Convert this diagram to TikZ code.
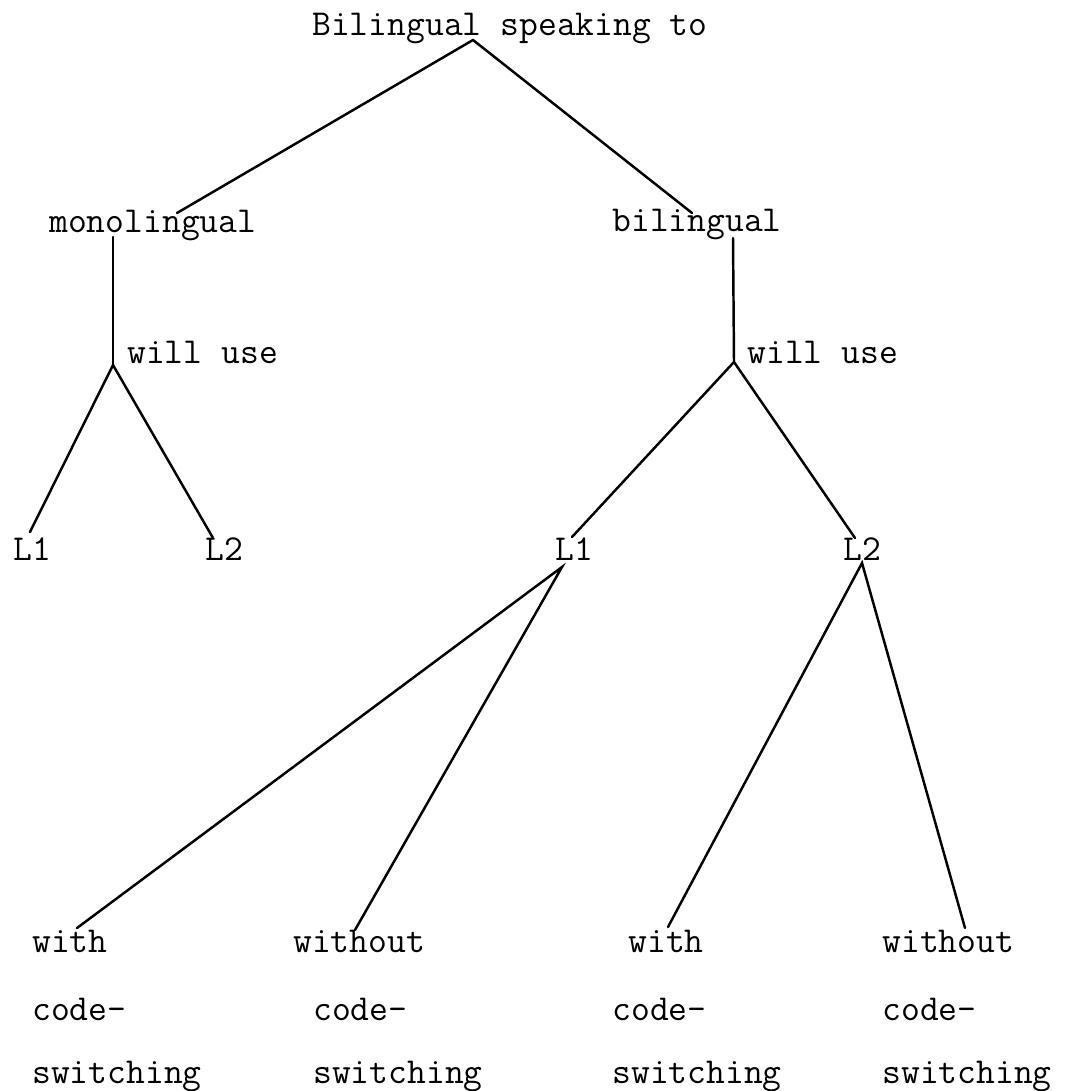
\documentclass[tikz,border=0pt]{standalone}
\usepackage{fontspec}

\begin{document}
\begin{tikzpicture}[x=0.02cm, y=-0.02cm,
word/.style={anchor=base west, inner sep=0pt, font=\ttfamily\addfontfeatures{FakeBold=1.2}\fontsize{20.8}{22}\selectfont},
twig/.style={draw, line width=1.4pt, line cap=round}
]
\useasboundingbox (0,0) rectangle (1081,1091);

% top of the tree
\node[word] (root)    at (312,36)  {Bilingual speaking to};
\node[word] (mono)    at (49,233)  {monolingual};
\node[word] (bil)     at (612,232) {bilingual};
\node[word] (monouse) at (127,363) {will use};
\node[word] (biluse)  at (747,363) {will use};

% languages
\node[word] (monoL1) at (13,560)  {L1};
\node[word] (monoL2) at (205,560) {L2};
\node[word] (bilL1)  at (555,560) {L1};
\node[word] (bilL2)  at (843,560) {L2};

% code-switching leaves
\node[word] (withA)     at (32,952)   {with};
\node[word] (withAb)    at (32,1020)  {code-};
\node[word] (withAc)    at (32,1083)  {switching};
\node[word] (withoutA)  at (293,952)  {without};
\node[word] (withoutAb) at (313,1020) {code-};
\node[word] (withoutAc) at (313,1083) {switching};
\node[word] (withB)     at (628,952)  {with};
\node[word] (withBb)    at (612,1020) {code-};
\node[word] (withBc)    at (612,1083) {switching};
\node[word] (withoutB)  at (882,952)  {without};
\node[word] (withoutBb) at (882,1020) {code-};
\node[word] (withoutBc) at (882,1083) {switching};

% where the branches meet the words
\coordinate (rootj)   at (473,40);
\coordinate (monoin)  at (177,213);
\coordinate (bilin)   at (692,213);
\coordinate (monoout) at (113,237);
\coordinate (bilout)  at (733,238);
\coordinate (monoj)   at (113,365);
\coordinate (bilj)    at (734,362);
\coordinate (monoL1in) at (30,532);
\coordinate (monoL2in) at (213,538);
\coordinate (bilL1in)  at (572,537);
\coordinate (bilL2in)  at (855,538);
\coordinate (bilL1out) at (562,567);
\coordinate (bilL2out) at (862,563);
\coordinate (withAin)    at (77,928);
\coordinate (withoutAin) at (355,930);
\coordinate (withBin)    at (668,927);
\coordinate (withoutBin) at (965,928);

\path[twig] (monoin) -- (rootj) -- (bilin);
\path[twig] (monoout) -- (monoj);
\path[twig] (bilout) -- (bilj);
\path[twig] (monoL1in) -- (monoj) -- (monoL2in);
\path[twig] (bilL1in) -- (bilj) -- (bilL2in);
\path[twig] (withAin) -- (bilL1out) -- (withoutAin);
\path[twig] (withBin) -- (bilL2out) -- (withoutBin);
\end{tikzpicture}
\end{document}
